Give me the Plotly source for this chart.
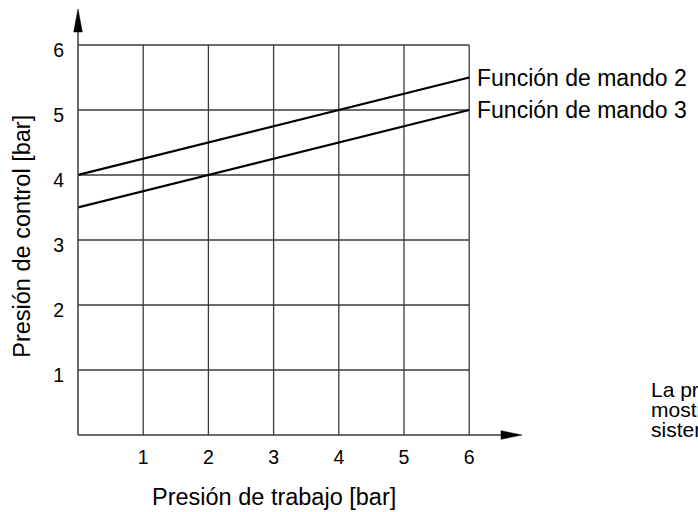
import plotly.graph_objects as go

# Data
presion_trabajo = [0, 6]
funcion_mando_2 = [4.0, 5.5]
funcion_mando_3 = [3.5, 5.0]
series_names = ["Función de mando 2", "Función de mando 3"]
x_ticks = [1, 2, 3, 4, 5, 6]
y_ticks = [1, 2, 3, 4, 5, 6]
grid_max_x = 6
grid_max_y = 6
x_title = "Presión de trabajo [bar]"
y_title = "Presión de control [bar]"
note_lines = ["La presión de control indicada",
              "mostrada es válida para el",
              "sistema de mando completo"]

FONT = "Liberation Sans, Arial, Helvetica, sans-serif"
W, H = 698, 512
UX, UY = 65.2, 65.0
L, R, T, B = 78, 160, 3, 77
PW, PH = W - L - R, H - T - B
XMAX = PW / UX
YMAX = PH / UY
BOTTOM = H - B


def px(xpix):
    return (xpix - L) / PW


def py(ypix):
    return (BOTTOM - ypix) / PH


fig = go.Figure()

grid_color = "#3a3a3a"
shapes = []
for xv in x_ticks:
    shapes.append(dict(type="line", xref="x", yref="y", x0=xv, x1=xv, y0=0, y1=grid_max_y,
                       line=dict(color=grid_color, width=1.3), layer="below"))
for yv in y_ticks:
    shapes.append(dict(type="line", xref="x", yref="y", x0=0, x1=grid_max_x, y0=yv, y1=yv,
                       line=dict(color=grid_color, width=1.3), layer="below"))
# axis lines (paper refs so they are not clipped)
shapes.append(dict(type="line", xref="paper", yref="paper", x0=0, x1=px(505), y0=0, y1=0,
                   line=dict(color=grid_color, width=1.5)))
shapes.append(dict(type="line", xref="paper", yref="paper", x0=0, x1=0, y0=0, y1=py(28),
                   line=dict(color=grid_color, width=1.5)))
# arrow heads
shapes.append(dict(type="path", xref="paper", yref="paper",
                   path=f"M {px(501)},{py(BOTTOM - 4.3)} L {px(522)},{py(BOTTOM)} L {px(501)},{py(BOTTOM + 4.3)} Z",
                   fillcolor="black", line=dict(color="black", width=0.5)))
shapes.append(dict(type="path", xref="paper", yref="paper",
                   path=f"M {px(L - 4.3)},{py(32)} L {px(L)},{py(9)} L {px(L + 4.3)},{py(32)} Z",
                   fillcolor="black", line=dict(color="black", width=0.5)))

for name, ys in zip(series_names, [funcion_mando_2, funcion_mando_3]):
    fig.add_trace(go.Scatter(x=presion_trabajo, y=ys, mode="lines", name=name,
                             line=dict(color="black", width=2.2), showlegend=False,
                             cliponaxis=False))

annotations = []
for name, ys in zip(series_names, [funcion_mando_2, funcion_mando_3]):
    annotations.append(dict(x=presion_trabajo[-1], y=ys[-1], xref="x", yref="y", text=name,
                            showarrow=False, xanchor="left", yanchor="middle", xshift=6,
                            font=dict(family=FONT, size=23, color="black")))
annotations.append(dict(x=grid_max_x / 2, y=0, xref="x", yref="y", text=x_title,
                        showarrow=False, xanchor="center", yanchor="middle", yshift=-62,
                        font=dict(family=FONT, size=23.5, color="black")))
annotations.append(dict(x=0, y=3.05, xref="x", yref="y", text=y_title,
                        showarrow=False, xanchor="center", yanchor="middle", xshift=-56,
                        textangle=-90, font=dict(family=FONT, size=23.5, color="black")))
for i, line_txt in enumerate(note_lines):
    ypix = 389 + 20 * i
    annotations.append(dict(x=px(649), y=py(ypix), xref="paper", yref="paper",
                            text=line_txt, showarrow=False, xanchor="left", yanchor="middle",
                            align="left", font=dict(family=FONT, size=21, color="black")))

fig.update_layout(
    width=W, height=H,
    margin=dict(l=L, r=R, t=T, b=B, autoexpand=False),
    paper_bgcolor="white", plot_bgcolor="white",
    shapes=shapes, annotations=annotations,
    xaxis=dict(range=[0, XMAX], tickvals=x_ticks, ticktext=[str(v) for v in x_ticks],
               showgrid=False, zeroline=False, showline=False, ticks="", automargin=False,
               tickfont=dict(family=FONT, size=19.5, color="black"), ticklabelstandoff=8,
               fixedrange=True),
    yaxis=dict(range=[0, YMAX], tickvals=y_ticks, ticktext=[str(v) for v in y_ticks],
               showgrid=False, zeroline=False, showline=False, ticks="", automargin=False,
               tickfont=dict(family=FONT, size=19.5, color="black"), ticklabelstandoff=13,
               ticklabelshift=5, fixedrange=True),
)

fig.write_html("out.html", config={"displayModeBar": False},
               post_script="document.body.style.margin='0';document.body.style.overflow='hidden';")
